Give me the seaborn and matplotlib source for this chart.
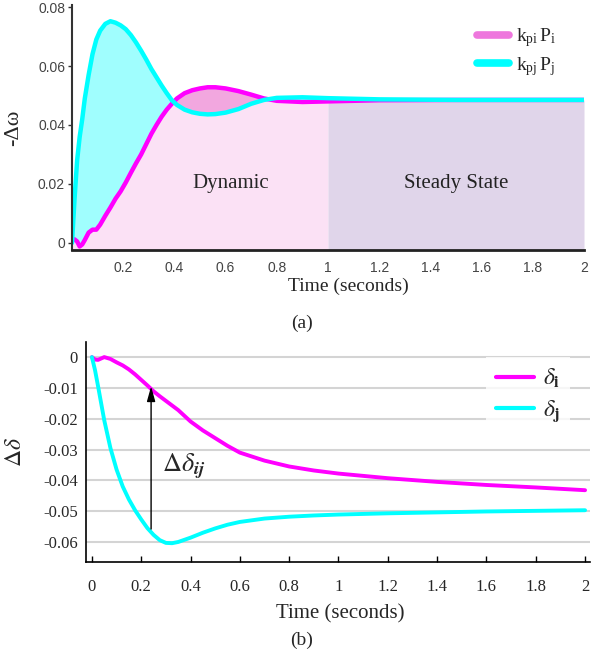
import numpy as np
import pandas as pd
import matplotlib
matplotlib.use("Agg")
import matplotlib.pyplot as plt
import seaborn as sns
from matplotlib.lines import Line2D

# ---------------- data (a) ----------------
t_a = [0, 0.01, 0.02, 0.03, 0.04, 0.05, 0.065, 0.08, 0.095, 0.11, 0.13, 0.15, 0.17,
       0.19, 0.21, 0.23, 0.25, 0.27, 0.29, 0.31, 0.33, 0.35, 0.37, 0.39, 0.41, 0.44,
       0.47, 0.5, 0.53, 0.56, 0.6, 0.65, 0.7, 0.75, 0.8, 0.9, 1.0, 1.2, 1.5, 2.0]
kpi_Pi = [0.0012, 0.0012, 0.0005, -0.0012, -0.0005, 0.001, 0.0035, 0.0045, 0.0045,
          0.0062, 0.0092, 0.012, 0.015, 0.0175, 0.0205, 0.0238, 0.027, 0.030, 0.0335,
          0.037, 0.040, 0.0428, 0.0452, 0.0472, 0.049, 0.0508, 0.0518, 0.0524, 0.0528,
          0.0528, 0.0524, 0.0515, 0.0503, 0.049, 0.0482, 0.0478, 0.048, 0.0484, 0.0485,
          0.0485]
kpj_Pj = [0.0, 0.015, 0.028, 0.036, 0.042, 0.049, 0.057, 0.064, 0.069, 0.072, 0.0743,
          0.0752, 0.0747, 0.0738, 0.0725, 0.0705, 0.068, 0.0652, 0.0622, 0.059, 0.0562,
          0.0534, 0.0508, 0.0484, 0.0468, 0.0452, 0.0443, 0.0438, 0.0436, 0.0437,
          0.0442, 0.0454, 0.0472, 0.0485, 0.0492, 0.0494, 0.0491, 0.0487, 0.0485, 0.0485]

# ---------------- data (b) ----------------
t_b = [0, 0.0125, 0.025, 0.05, 0.075, 0.1, 0.125, 0.15, 0.175, 0.2, 0.225, 0.25,
       0.275, 0.3, 0.325, 0.35, 0.4, 0.45, 0.5, 0.55, 0.6, 0.7, 0.8, 0.9, 1.0, 1.2,
       1.4, 1.6, 1.8, 2.0]
delta_i = [0, -0.0008, -0.0009, 0.0, -0.0006, -0.0017, -0.0027, -0.0040, -0.0056,
           -0.0074, -0.0092, -0.0111, -0.0127, -0.0142, -0.0157, -0.0172, -0.0209,
           -0.0238, -0.0263, -0.0288, -0.0310, -0.0336, -0.0355, -0.0368, -0.0378,
           -0.0393, -0.0405, -0.0415, -0.0423, -0.0432]
delta_j = [0, -0.0042, -0.0095, -0.0205, -0.0295, -0.0365, -0.0420, -0.0462, -0.0497,
           -0.0527, -0.0555, -0.0577, -0.0594, -0.0603, -0.0604, -0.0600, -0.0586,
           -0.0570, -0.0556, -0.0544, -0.0535, -0.0524, -0.0518, -0.0514, -0.0511,
           -0.0507, -0.0504, -0.0501, -0.0499, -0.0497]

xticks_a = [0.2, 0.4, 0.6, 0.8, 1, 1.2, 1.4, 1.6, 1.8, 2]
yticks_a = [0, 0.02, 0.04, 0.06, 0.08]
xticks_b = [0, 0.2, 0.4, 0.6, 0.8, 1, 1.2, 1.4, 1.6, 1.8, 2]
yticks_b = [0, -0.01, -0.02, -0.03, -0.04, -0.05, -0.06]

sns.set_style("white")
plt.rcParams["font.family"] = ["Liberation Serif", "DejaVu Serif"]
plt.rcParams["mathtext.fontset"] = "stix"

MAG = "#ff00ff"
CYA = "#00ffff"

fig = plt.figure(figsize=(6.06, 6.53), dpi=100)
W, H = 606, 653
def rect(l, t, r, b):
    return [l / W, 1 - b / H, (r - l) / W, (b - t) / H]

# ================= (a) =================
ax1 = fig.add_axes(rect(72, 5, 584, 250))
da = pd.DataFrame({"t": t_a * 2,
                   "v": kpi_Pi + kpj_Pj,
                   "s": ["i"] * len(t_a) + ["j"] * len(t_a)})
ylo = -0.0024
ta = np.array(t_a); mi = np.array(kpi_Pi); cj = np.array(kpj_Pj)
lo = np.minimum(mi, cj)
ax1.fill_between(ta, ylo, lo, where=ta <= 1.0, color="#fbe1f5", lw=0)
ax1.fill_between(ta, ylo, lo, where=ta >= 1.0, color="#e0d5ea", lw=0)
ax1.fill_between(ta, mi, cj, where=cj >= mi, color="#a0fefe", lw=0, interpolate=True)
ax1.fill_between(ta, mi, cj, where=mi >= cj, color="#f2a7df", lw=0, interpolate=True)
sns.lineplot(data=da, x="t", y="v", hue="s", palette={"i": MAG, "j": CYA},
             hue_order=["i", "j"], ax=ax1, legend=False, lw=3.2, estimator=None)
ax1.set_xlim(0, 2)
ax1.set_ylim(ylo, 0.0807)
ax1.set_xticks(xticks_a)
ax1.set_xticklabels([f"{v:g}" for v in xticks_a], family="Liberation Sans",
                    fontsize=10, color="#444444")
ax1.set_yticks(yticks_a)
ax1.set_yticklabels([f"{v:g}" for v in yticks_a], family="Liberation Sans",
                    fontsize=10, color="#444444")
ax1.tick_params(axis="x", length=0, pad=8)
ax1.tick_params(axis="y", length=3, width=1, direction="out", color="#333333", pad=2, left=True)
for s in ["top", "right"]:
    ax1.spines[s].set_visible(False)
ax1.spines["left"].set_color("#333333"); ax1.spines["left"].set_linewidth(1.5)
ax1.spines["bottom"].set_color("#222222"); ax1.spines["bottom"].set_linewidth(2)
ax1.set_xlabel("Time (seconds)", fontsize=14)
ax1.xaxis.set_label_coords(0.539, -0.115)
ax1.set_ylabel("-Δω", fontsize=16)
ax1.yaxis.set_label_coords(-0.095, 0.5)
ax1.text(0.62, 0.02, "Dynamic", fontsize=15, ha="center", va="center")
ax1.text(1.5, 0.02, "Steady State", fontsize=15, ha="center", va="center", color="#222222")
h1 = [Line2D([], [], color="#ee77dd", lw=5.5), Line2D([], [], color=CYA, lw=5.5)]
ax1.legend(h1, [r"$\mathregular{k_{pi}\,P_i}$", r"$\mathregular{k_{pj}\,P_j}$"],
           loc="upper right", bbox_to_anchor=(0.98, 0.985), frameon=False,
           fontsize=14, handlelength=1.6, handletextpad=0.4, labelspacing=0.3)
fig.text(0.498, 1 - 323 / H, "(a)", fontsize=14, ha="center", va="center")

# ================= (b) =================
ax2 = fig.add_axes(rect(86, 342, 590, 562))
db = pd.DataFrame({"t": t_b * 2,
                   "v": delta_i + delta_j,
                   "s": ["i"] * len(t_b) + ["j"] * len(t_b)})
sns.lineplot(data=db, x="t", y="v", hue="s", palette={"i": MAG, "j": CYA},
             hue_order=["i", "j"], ax=ax2, legend=False, lw=2.8, estimator=None)
ax2.set_xlim(-0.024, 2.02)
ax2.set_ylim(-0.0665, 0.0049)
ax2.set_xticks(xticks_b)
ax2.set_xticklabels([f"{v:g}" for v in xticks_b], fontsize=12)
ax2.set_yticks(yticks_b)
ax2.set_yticklabels([f"{v:g}" for v in yticks_b], fontsize=12)
ax2.yaxis.grid(True, color="#d4d4d4", lw=1.5)
ax2.set_axisbelow(True)
ax2.tick_params(axis="x", direction="in", length=4, width=1, color="black", pad=12, bottom=True)
ax2.tick_params(axis="y", length=0, pad=6)
for s in ["top", "right"]:
    ax2.spines[s].set_visible(False)
for s in ["left", "bottom"]:
    ax2.spines[s].set_color("black"); ax2.spines[s].set_linewidth(1.2)
ax2.set_xlabel("Time (seconds)", fontsize=15)
ax2.xaxis.set_label_coords(0.504, -0.19)
ax2.set_ylabel(r"$\Delta\delta$", fontsize=17)
ax2.yaxis.set_label_coords(-0.12, 0.5)
ax2.annotate("", xy=(0.24, -0.0095), xytext=(0.24, -0.0558),
             arrowprops=dict(arrowstyle="-|>,head_width=0.25,head_length=0.9",
                             color="black", lw=1.0, shrinkA=0, shrinkB=0))
ax2.text(0.285, -0.0355, r"$\Delta\delta_{\boldsymbol{ij}}$", fontsize=19, ha="left", va="center")
h2 = [Line2D([], [], color=MAG, lw=3), Line2D([], [], color=CYA, lw=3)]
leg2 = ax2.legend(h2, [r"$\delta_{\mathbf{i}}$", r"$\delta_{\mathbf{j}}$"],
                  loc="upper right", bbox_to_anchor=(0.96, 0.93), frameon=True,
                  fancybox=False, fontsize=17, handlelength=1.6, handletextpad=0.4,
                  labelspacing=0.35, borderaxespad=0)
leg2.get_frame().set_facecolor("white"); leg2.get_frame().set_edgecolor("none")
fig.text(0.498, 1 - 640 / H, "(b)", fontsize=14, ha="center", va="center")

fig.savefig("out.png", dpi=100)
